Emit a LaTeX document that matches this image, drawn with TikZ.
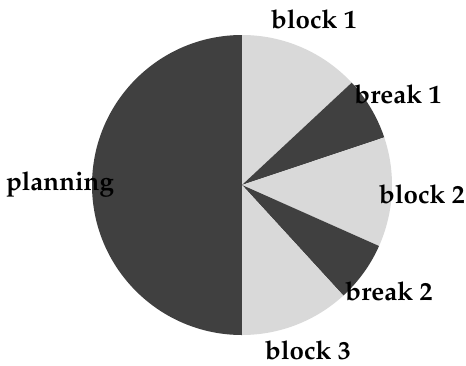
\documentclass[tikz,border=0pt]{standalone}
\usepackage[T1]{fontenc}
\usepackage{mathpazo}
\usepackage{tikz}
\definecolor{slicedark}{RGB}{64,64,64}
\definecolor{slicelight}{RGB}{217,217,217}
\begin{document}
\begin{tikzpicture}[x=1bp,y=1bp,
  darkslice/.style={fill=slicedark},
  lightslice/.style={fill=slicelight},
  slicelabel/.style={anchor=base,inner sep=0pt,font=\fontsize{26}{30}\selectfont\bfseries}]
\useasboundingbox (0,0) rectangle (466,365);
\coordinate (c) at (242,180);
% slices, clockwise from the top
\fill [darkslice] (c) -- ++(90:150) arc[start angle=90,end angle=270,radius=150bp] -- cycle;
\fill [lightslice] (c) -- ++(43:150) arc[start angle=43,end angle=90,radius=150bp] -- cycle;
\fill [darkslice] (c) -- ++(18.5:150) arc[start angle=18.5,end angle=43,radius=150bp] -- cycle;
\fill [lightslice] (c) -- ++(-24:150) arc[start angle=-24,end angle=18.5,radius=150bp] -- cycle;
\fill [darkslice] (c) -- ++(-47.5:150) arc[start angle=-47.5,end angle=-24,radius=150bp] -- cycle;
\fill [lightslice] (c) -- ++(-90:150) arc[start angle=-90,end angle=-47.5,radius=150bp] -- cycle;
% labels
\node [slicelabel] (planning) at (60,175) {planning};
\node [slicelabel] (block1) at (314,337) {block 1};
\node [slicelabel] (break1) at (398,262) {break 1};
\node [slicelabel] (block2) at (422,162) {block 2};
\node [slicelabel] (break2) at (389,65) {break 2};
\node [slicelabel] (block3) at (308,6) {block 3};
\end{tikzpicture}
\end{document}
